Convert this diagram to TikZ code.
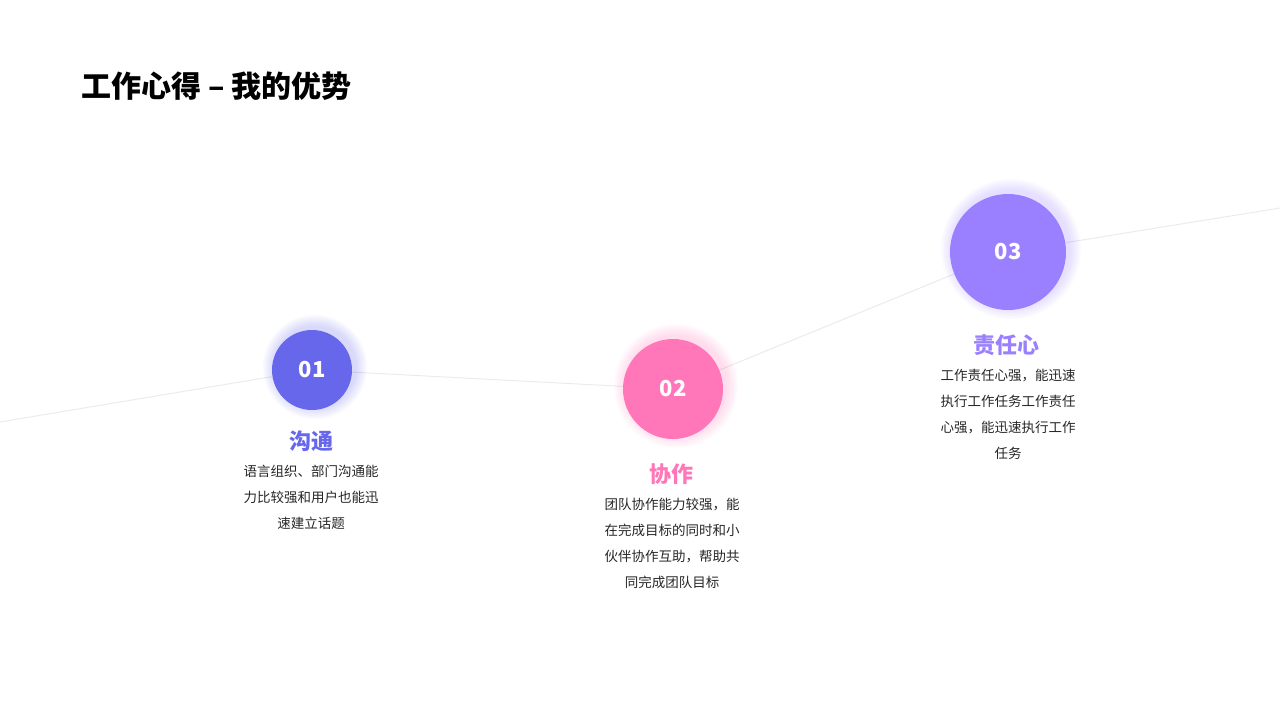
\documentclass[tikz,border=0pt]{standalone}
\usepackage{fontspec}
\setmainfont{Noto Sans CJK SC}
\usetikzlibrary{calc}
\definecolor{cA}{HTML}{6767EC}
\definecolor{cB}{HTML}{FF77B8}
\definecolor{cC}{HTML}{9A80FF}
\definecolor{ln}{HTML}{EBEBEB}
\tikzset{
 num/.style={circle,fill=#1,text=white,font=\bfseries\fontsize{22}{22}\selectfont,inner sep=0pt},
 ttl/.style={text=#1,font=\bfseries\fontsize{22}{22}\selectfont},
 body/.style={align=center,font=\fontsize{13.5}{26}\selectfont,text=black!85},
}
\newcommand{\glow}[3]{\foreach \k in {1,...,8}{\fill[#3,opacity=0.035] ($(#1)+(3,-3)$) circle ({#2+1.5*\k});}}
\begin{document}
\begin{tikzpicture}[x=1pt,y=-1pt]
\useasboundingbox (0,0) rectangle (1280,720);
\node[anchor=west,font=\bfseries\fontsize{30}{30}\selectfont] (h) at (78,86) {工作心得 – 我的优势};
\coordinate (s) at (0,422);
\coordinate (e) at (1280,208);
\coordinate (p1) at (312,370);
\coordinate (p2) at (673,389);
\coordinate (p3) at (1008,252);
\draw[ln,line width=1pt] (s)--(p1)--(p2)--(p3)--(e);
\glow{p1}{40}{cA}
\glow{p2}{50}{cB}
\glow{p3}{58}{cC}
\node[num=cA,minimum size=80pt] (n1) at (p1) {01};
\node[num=cB,minimum size=100pt] (n2) at (p2) {02};
\node[num=cC,minimum size=116pt] (n3) at (p3) {03};
\node[ttl=cA] (t1) at (311,441) {沟通};
\node[ttl=cB] (t2) at (671,474) {协作};
\node[ttl=cC] (t3) at (1006,345) {责任心};
\node[body,anchor=north] (b1) at (311,462) {语言组织、部门沟通能\\力比较强和用户也能迅\\速建立话题};
\node[body,anchor=north] (b2) at (672,495) {团队协作能力较强，能\\在完成目标的同时和小\\伙伴协作互助，帮助共\\同完成团队目标};
\node[body,anchor=north] (b3) at (1008,366) {工作责任心强，能迅速\\执行工作任务工作责任\\心强，能迅速执行工作\\任务};
\end{tikzpicture}
\end{document}
